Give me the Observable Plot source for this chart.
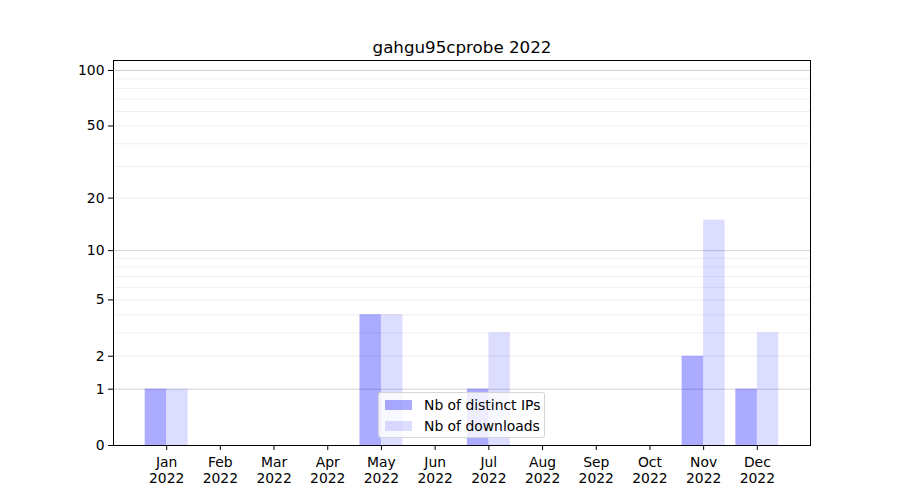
<!DOCTYPE html>
<html>
<head>
<meta charset="utf-8">
<script src="https://cdn.jsdelivr.net/npm/d3@7"></script>
<script src="https://cdn.jsdelivr.net/npm/@observablehq/plot@0.6"></script>
<style>
  html, body { margin: 0; padding: 0; background: #fff; }
  #wrap { position: relative; width: 900px; height: 500px; font-family: "DejaVu Sans", sans-serif; }
  #legend {
    position: absolute; left: 378px; top: 392px; width: 165px; height: 44px;
    border: 1px solid rgba(204,204,204,0.8); border-radius: 3px; background: rgba(255,255,255,0.8);
    font-size: 13.9px; color: #000;
  }
  .row { position: absolute; left: 6px; display: flex; align-items: center; height: 16px; }
  .sw { width: 27px; height: 10px; margin-right: 12px; }
</style>
</head>
<body>
<div id="wrap"><div id="legend"></div></div>
<script>
const title = "gahgu95cprobe 2022";
const year = "2022";
const months = ["Jan","Feb","Mar","Apr","May","Jun","Jul","Aug","Sep","Oct","Nov","Dec"];
const distinctIPs = [1,0,0,0,4,0,1,0,0,0,2,1];
const downloads   = [1,0,0,0,4,0,3,0,0,0,15,3];
const seriesNames = ["Nb of distinct IPs", "Nb of downloads"];
const seriesOpacity = [0.33, 0.135];
const yTicks = [0, 1, 2, 5, 10, 20, 50, 100];
const majorGrid = [1, 10, 100];
const minorGrid = [2,3,4,5,6,7,8,9,20,30,40,50,60,70,80,90];

const barWidth = 0.4;
const rows = [];
months.forEach((m, i) => {
  rows.push({i, month: m, s: 0, value: distinctIPs[i]});
  rows.push({i, month: m, s: 1, value: downloads[i]});
});
const bars = rows.filter(d => d.value > 0);

const chart = Plot.plot({
  width: 900,
  height: 500,
  marginLeft: 113,
  marginRight: 90,
  marginTop: 60,
  marginBottom: 55,
  style: { fontFamily: "DejaVu Sans, sans-serif", fontSize: "13.9px", color: "#000", background: "white" },
  x: { type: "linear", domain: [-0.4 - 0.59, 11.4 + 0.59], axis: null },
  y: { type: "symlog", constant: 1, domain: [0, 113.2], axis: null },
  marks: [
    Plot.ruleY(minorGrid, { stroke: "#ebebeb", strokeWidth: 0.8 }),
    Plot.ruleY(majorGrid, { stroke: "#c8c8c8", strokeWidth: 0.8 }),
    Plot.rectY(bars, {
      x1: d => d.i + (d.s === 0 ? -barWidth : 0),
      x2: d => d.i + (d.s === 0 ? 0 : barWidth),
      y1: 0,
      y2: "value",
      fill: "blue",
      fillOpacity: d => seriesOpacity[d.s]
    }),
    Plot.axisY({ ticks: yTicks, tickFormat: d => String(d), tickSize: 5, tickPadding: 4, label: null, fontSize: 13.9 }),
    Plot.axisX({ ticks: months.map((m, i) => i), tickFormat: i => `${months[i]}\n${year}`, tickSize: 5, tickPadding: 5, label: null, lineHeight: 1.15, fontSize: 13.9 }),
    Plot.frame({ stroke: "black", strokeWidth: 1 }),
    Plot.text([title], { frameAnchor: "top", lineAnchor: "bottom", dy: -8, fontSize: 16.7, fill: "black" })
  ]
});
document.getElementById("wrap").prepend(chart);

const legend = document.getElementById("legend");
seriesNames.forEach((name, k) => {
  const row = document.createElement("div");
  row.className = "row";
  row.style.top = (4 + k * 21) + "px";
  const sw = document.createElement("div");
  sw.className = "sw";
  sw.style.background = `rgba(0,0,255,${seriesOpacity[k]})`;
  const tx = document.createElement("span");
  tx.textContent = name;
  row.appendChild(sw);
  row.appendChild(tx);
  legend.appendChild(row);
});
</script>
</body>
</html>
